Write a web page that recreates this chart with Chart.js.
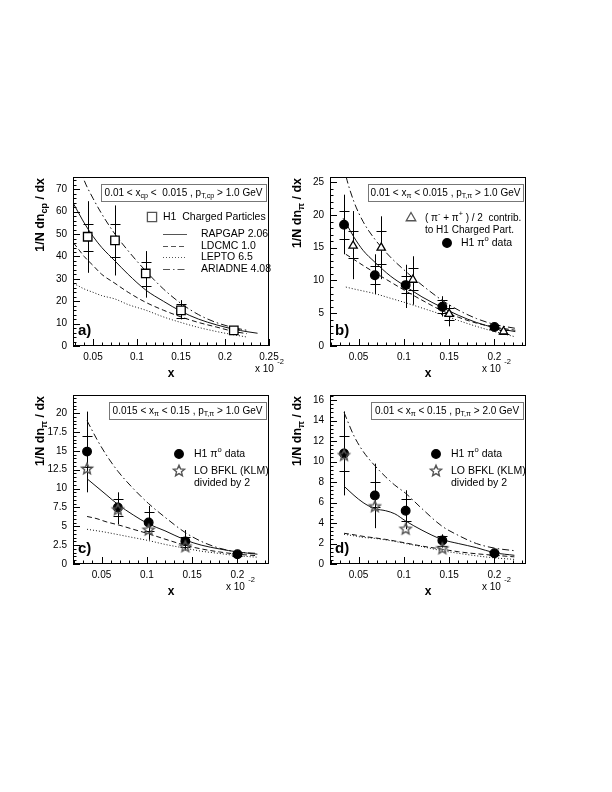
<!DOCTYPE html>
<html>
<head>
<meta charset="utf-8">
<script src="https://cdn.jsdelivr.net/npm/chart.js@4.4.0/dist/chart.umd.min.js"></script>
<style>
  body { margin: 0; background: #fff; }
  #page { position: relative; width: 612px; height: 792px; background: #fff; }
  canvas { position: absolute; }
</style>
</head>
<body>
<div id="page">
  <canvas id="chartA" width="306" height="240" style="left:0px;top:150px;width:306px;height:240px"></canvas>
  <canvas id="chartB" width="306" height="240" style="left:257px;top:150px;width:306px;height:240px"></canvas>
  <canvas id="chartC" width="306" height="240" style="left:0px;top:368px;width:306px;height:240px"></canvas>
  <canvas id="chartD" width="306" height="240" style="left:257px;top:368px;width:306px;height:240px"></canvas>
</div>
<script>
// ---- panel a : H1 charged particles ----
const aPtsX = [0.044, 0.075, 0.11, 0.15, 0.21];
const aPtsY = [48.8, 47.2, 32.4, 15.9, 7.0];
const aTotLo = [32.7, 31.5, 21.6, 11.9, 5.8];
const aTotHi = [64.7, 62.8, 42.4, 20.5, 8.2];
const aStatLo = [42.4, 39.7, 26.8, 12.6, 6.2];
const aStatHi = [54.6, 54.6, 37.5, 18.9, 7.8];

const aCurveX  = [0.028, 0.035, 0.04, 0.05, 0.06, 0.075, 0.09, 0.11, 0.13, 0.15, 0.17, 0.19, 0.21, 0.225, 0.237];
const aRapgap  = [63.5, 58.5, 55, 49, 44, 38, 32, 25, 20, 15.5, 12, 9.5, 7.5, 6.4, 5.7];
const aLdcmc   = [46, 42.5, 40, 36, 32, 28, 24, 19.5, 16, 13, 10.5, 8.5, 6.5, 5.5, null];
const aLepto   = [28, 26.5, 25.5, 24, 22.5, 21, 18.5, 16, 13, 10.5, 8.3, 6.5, 5, 4, null];
const aAriadne = [null, 80, 74, 66, 59, 50, 42.5, 33.5, 25.5, 19, 14, 10.5, 8.2, 7, null];

// ---- panel b : pi0 data and (pi- + pi+)/2 ----
const piX = [0.034, 0.068, 0.102, 0.1425, 0.2];
const bPiY = [18.5, 10.8, 9.3, 6.0, 2.9];
const bPiTotLo = [14.0, 7.9, 5.8, 4.5, 2.4];
const bPiTotHi = [23.1, 14.0, 12.4, 7.6, 3.4];
const bPiStatLo = [16.3, 9.4, 8.1, 5.1, 2.6];
const bPiStatHi = [20.6, 12.2, 10.7, 7.0, 3.2];

const bTriX = [0.044, 0.075, 0.11, 0.15, 0.21];
const bTriY = [15.3, 15.0, 10.1, 4.9, 2.2];
const bTriTotLo = [10.2, 10.2, 6.3, 3.0, 1.7];
const bTriTotHi = [20.6, 19.8, 13.7, 6.3, 2.7];
const bTriStatLo = [13.5, 12.5, 8.6, 4.0, 1.9];
const bTriStatHi = [17.5, 17.5, 11.9, 5.8, 2.5];

const bCurveX  = [0.033, 0.036, 0.045, 0.055, 0.068, 0.085, 0.102, 0.12, 0.142, 0.16, 0.18, 0.2, 0.223];
const bRapgap  = [19.5, 18.8, 16.6, 14.6, 12.8, 10.7, 9.1, 7.5, 5.9, 4.7, 3.6, 2.8, 2.2];
const bLdcmc   = [null, 14, 13.2, 12.3, 11.2, 9.8, 8.4, 7.0, 5.4, 4.4, 3.5, 2.9, 2.4];
const bLepto   = [null, 9.0, 8.7, 8.4, 8.0, 7.3, 6.6, 5.8, 4.8, 3.9, 3.0, 2.2, 1.4];
const bAriadne = [28, 26, 22, 19, 16.3, 13.6, 11.4, 9.3, 7.0, 5.5, 4.2, 3.3, 2.7];

// ---- panel c : pi0, 0.015 < x_pi < 0.15, pT > 1 GeV ----
const cPiY = [14.9, 7.5, 5.5, 3.0, 1.3];
const cTotLo = [9.5, 5.3, 3.2, 1.8, 1.0];
const cTotHi = [20.2, 9.5, 7.7, 4.5, 1.6];
const cStatLo = [12.8, 6.3, 4.4, 2.3, 1.1];
const cStatHi = [16.9, 8.6, 6.9, 3.6, 1.5];
const starX = [0.034, 0.068, 0.102, 0.1425];
const cBfkl = [12.6, 7.2, 4.5, 2.3];

const cCurveX  = [0.034, 0.045, 0.055, 0.068, 0.085, 0.102, 0.12, 0.142, 0.16, 0.18, 0.2, 0.222];
const cRapgap  = [11.3, 10.2, 9.2, 7.9, 6.5, 5.3, 4.4, 3.2, 2.5, 2.0, 1.6, 1.3];
const cLdcmc   = [6.3, 6.0, 5.6, 5.2, 4.6, 4.0, 3.3, 2.5, 2.0, 1.6, 1.3, 1.1];
const cLepto   = [4.6, 4.4, 4.2, 3.9, 3.5, 3.1, 2.6, 2.1, 1.7, 1.4, 1.1, 0.9];
const cAriadne = [19.0, 16.5, 14.5, 12.3, 10.0, 8.0, 6.2, 4.2, 3.0, 2.1, 1.6, 1.4];

// ---- panel d : pi0, 0.01 < x_pi < 0.15, pT > 2 GeV ----
const dPiY = [10.8, 6.7, 5.2, 2.3, 1.05];
const dTotLo = [6.7, 3.5, 3.4, 1.6, 0.8];
const dTotHi = [14.9, 9.8, 7.2, 2.9, 1.3];
const dStatLo = [9.1, 5.6, 4.2, 1.8, 0.9];
const dStatHi = [12.5, 8.0, 6.3, 2.7, 1.2];
const dBfkl = [10.6, 5.6, 3.4, 1.5];

const dCurveX  = [0.034, 0.045, 0.055, 0.068, 0.08, 0.09, 0.102, 0.12, 0.142, 0.16, 0.18, 0.2, 0.222];
const dRapgap  = [7.6, 6.7, 6.0, 5.4, 5.2, 4.9, 4.2, 3.3, 2.4, 2.0, 1.6, 1.1, 0.85];
const dLdcmc   = [3.0, 2.85, 2.7, 2.55, 2.4, 2.25, 2.05, 1.75, 1.45, 1.2, 1.0, 0.85, 0.7];
const dLepto   = [2.9, 2.75, 2.6, 2.5, 2.35, 2.2, 2.0, 1.7, 1.3, 1.05, 0.8, 0.6, 0.45];
const dAriadne = [14.8, 12.5, 11.0, 9.6, 8.5, 7.7, 6.9, 5.4, 3.7, 2.8, 2.0, 1.55, 1.3];

const FONT = "'Liberation Sans', Arial, Helvetica, sans-serif";
const SOLID = [], DASHED = [5, 3], DOTTED = [1, 2], DASHDOT = [7, 3, 1.5, 3];

// open star marker, used as a Chart.js pointStyle image
function makeStar(r) {
  const c = document.createElement("canvas");
  c.width = c.height = Math.ceil(r * 2 + 4);
  const g = c.getContext("2d");
  g.translate(c.width / 2, c.height / 2);
  g.beginPath();
  for (let k = 0; k < 10; k++) {
    const rad = k % 2 ? r * 0.45 : r;
    const ang = -Math.PI / 2 + k * Math.PI / 5;
    g.lineTo(rad * Math.cos(ang), rad * Math.sin(ang));
  }
  g.closePath();
  g.strokeStyle = "#555";
  g.lineWidth = 1.4;
  g.stroke();
  return c;
}
const STAR = makeStar(5.8);

function richText(ctx, parts, x, y, size, bold, align) {
  const w = bold ? "bold " : "";
  let total = 0;
  const widths = parts.map(p => {
    ctx.font = w + (p[1] ? size * 0.72 : size) + "px " + FONT;
    const m = ctx.measureText(p[0]).width;
    total += m;
    return m;
  });
  let cx = align === "center" ? x - total / 2 : align === "right" ? x - total : x;
  ctx.textAlign = "left";
  ctx.textBaseline = "middle";
  parts.forEach((p, i) => {
    ctx.font = w + (p[1] ? size * 0.72 : size) + "px " + FONT;
    const dy = p[1] === "sub" ? size * 0.32 : p[1] === "sup" ? -size * 0.42 : 0;
    ctx.fillText(p[0], cx, y + dy);
    cx += widths[i];
  });
}

function curve(xs, ys, dash) {
  const pts = [];
  xs.forEach((x, i) => { if (ys[i] !== null) pts.push({ x: x, y: ys[i] }); });
  return {
    data: pts, showLine: true, borderColor: "#111", borderWidth: 1, borderDash: dash,
    pointRadius: 0, cubicInterpolationMode: "monotone", fill: false
  };
}

function markers(xs, ys, style, radius, fill, stroke) {
  return {
    data: xs.map((x, i) => ({ x: x, y: ys[i] })), showLine: false,
    pointStyle: style, pointRadius: radius, pointBackgroundColor: fill,
    pointBorderColor: stroke, pointBorderWidth: 1.3
  };
}

const panelPlugin = {
  id: "panel",
  beforeDatasetsDraw(chart, args, o) {
    const ctx = chart.ctx, xs = chart.scales.x, ys = chart.scales.y;
    ctx.save();
    ctx.strokeStyle = "#000";
    ctx.lineWidth = 1;
    o.errors.forEach(e => {
      e.x.forEach((xv, i) => {
        const px = Math.round(xs.getPixelForValue(xv)) + 0.5;
        ctx.beginPath();
        ctx.moveTo(px, ys.getPixelForValue(e.totLo[i]));
        ctx.lineTo(px, ys.getPixelForValue(e.totHi[i]));
        [e.statLo[i], e.statHi[i]].forEach(v => {
          const py = Math.round(ys.getPixelForValue(v)) + 0.5;
          ctx.moveTo(px - 5, py);
          ctx.lineTo(px + 5, py);
        });
        ctx.stroke();
      });
    });
    ctx.restore();
  },
  afterDraw(chart, args, o) {
    const ctx = chart.ctx, ca = chart.chartArea, xs = chart.scales.x, ys = chart.scales.y;
    const L = Math.round(ca.left), T = Math.round(ca.top), R = Math.round(ca.right), B = Math.round(ca.bottom);
    ctx.save();
    ctx.fillStyle = "#000";
    ctx.strokeStyle = "#000";
    ctx.lineWidth = 1;
    ctx.strokeRect(L + 0.5, T + 0.5, R - L - 1, B - T - 1);

    // inward tick marks on left and bottom axes
    ctx.beginPath();
    const ny = Math.floor(ys.max / o.yMinor + 1e-6);
    for (let k = 0; k <= ny; k++) {
      const v = k * o.yMinor;
      const major = Math.abs(v / o.yMajor - Math.round(v / o.yMajor)) < 1e-6;
      const py = Math.round(ys.getPixelForValue(v)) + 0.5;
      ctx.moveTo(L, py);
      ctx.lineTo(L + (major ? 7 : 3.5), py);
    }
    for (let k = Math.ceil(xs.min / 0.01); k <= Math.floor(xs.max / 0.01 + 1e-6); k++) {
      const px = Math.round(xs.getPixelForValue(k * 0.01)) + 0.5;
      ctx.moveTo(px, B);
      ctx.lineTo(px, B - (k % 5 === 0 ? 7 : 3.5));
    }
    ctx.stroke();

    // cut box
    const bx = L + o.boxLeft, by = T + 7, bw = R - 3 - bx, bh = 17;
    ctx.fillStyle = "#fff";
    ctx.fillRect(bx, by, bw, bh);
    ctx.strokeStyle = "#777";
    ctx.strokeRect(bx + 0.5, by + 0.5, bw, bh);
    ctx.fillStyle = "#000";
    richText(ctx, o.boxText, bx + bw / 2, by + bh / 2 + 0.5, 10, false, "center");

    // legend
    o.legend.forEach(item => {
      const x = L + item.x, y = T + item.y;
      if (item.line) {
        ctx.save();
        ctx.strokeStyle = "#555";
        ctx.setLineDash(item.line);
        ctx.beginPath();
        ctx.moveTo(x, y + 0.5);
        ctx.lineTo(x + 24, y + 0.5);
        ctx.stroke();
        ctx.restore();
      } else if (item.marker) {
        ctx.save();
        ctx.fillStyle = item.fill;
        ctx.strokeStyle = item.stroke;
        ctx.lineWidth = 1.3;
        Chart.helpers.drawPoint(ctx, { pointStyle: item.marker, radius: item.r, rotation: 0, borderWidth: 1.3 }, x, y);
        ctx.restore();
      }
      item.text.forEach((line, j) => {
        richText(ctx, line, L + item.tx, y + j * 12, item.size || 10.5, false, "left");
      });
    });

    // panel label, axis titles, x 10^-2
    ctx.fillStyle = "#000";
    ctx.font = "bold 15px " + FONT;
    ctx.textAlign = "left";
    ctx.textBaseline = "middle";
    ctx.fillText(o.tag, L + 5, T + 154);
    richText(ctx, [["x", ""]], (L + R) / 2, B + 28, 12, true, "center");
    ctx.font = "10px " + FONT;
    ctx.fillText("x 10", R - o.expOff, B + 23);
    ctx.font = "7.5px " + FONT;
    ctx.fillText("-2", R - o.expOff + ctx.measureText("x 10").width + 8, B + 16);
    ctx.save();
    ctx.translate(L - 32, T + 1);
    ctx.rotate(-Math.PI / 2);
    richText(ctx, o.yTitle, 0, 0, 12.5, true, "right");
    ctx.restore();
    ctx.restore();
  }
};

function makeChart(id, datasets, xr, yr, plug) {
  const tickFont = { family: FONT, size: 10 };
  return new Chart(document.getElementById(id), {
    type: "scatter",
    data: { datasets: datasets },
    options: {
      responsive: false,
      animation: false,
      layout: { padding: { left: 33, top: 27, right: 37, bottom: 14 } },
      plugins: { legend: { display: false }, tooltip: { enabled: false }, panel: plug },
      scales: {
        x: {
          type: "linear", min: xr[0], max: xr[1],
          afterFit: s => { s.height = 30; },
          grid: { display: false, drawTicks: false }, border: { display: false },
          ticks: {
            stepSize: 0.05, includeBounds: false, padding: 5, color: "#000", font: tickFont,
            autoSkip: false, maxRotation: 0, callback: v => String(Math.round(v * 100) / 100)
          }
        },
        y: {
          type: "linear", min: yr[0], max: yr[1],
          afterFit: s => { s.width = 40; },
          grid: { display: false, drawTicks: false }, border: { display: false },
          ticks: {
            stepSize: yr[2], includeBounds: false, padding: 6, color: "#000", font: tickFont,
            autoSkip: false, callback: v => String(Math.round(v * 10) / 10)
          }
        }
      }
    },
    plugins: [panelPlugin]
  });
}

const piTitle = [["1/N dn", ""], ["\u03c0", "sub"], [" / dx", ""]];
const pi0Text = [["H1 \u03c0", ""], ["o", "sup"], [" data", ""]];
const bfklLegend = [
  { marker: "circle", r: 4.3, fill: "#000", stroke: "#000", x: 106, y: 59, tx: 121, text: [pi0Text] },
  { marker: STAR, r: 5, x: 106, y: 76, tx: 121, text: [[["LO BFKL (KLM)", ""]], [["divided by 2", ""]]] }
];

makeChart("chartA", [
  markers(aPtsX, aPtsY, "rect", 6, "#fff", "#000"),
  curve(aCurveX, aRapgap, SOLID),
  curve(aCurveX, aLdcmc, DASHED),
  curve(aCurveX, aLepto, DOTTED),
  curve(aCurveX, aAriadne, DASHDOT)
], [0.0273, 0.25], [0, 75.5, 10], {
  errors: [{ x: aPtsX, totLo: aTotLo, totHi: aTotHi, statLo: aStatLo, statHi: aStatHi }],
  yMajor: 10, yMinor: 2, tag: "a)", expOff: 14, boxLeft: 28,
  boxText: [["0.01 < x", ""], ["cp", "sub"], [" <  0.015 , p", ""], ["T,cp", "sub"], [" > 1.0 GeV", ""]],
  yTitle: [["1/N dn", ""], ["cp", "sub"], [" / dx", ""]],
  legend: [
    { marker: "rect", r: 6.5, fill: "#fff", stroke: "#555", x: 79, y: 40, tx: 90, text: [[["H1  Charged Particles", ""]]] },
    { line: SOLID, x: 90, y: 57, tx: 128, text: [[["RAPGAP 2.06", ""]]] },
    { line: DASHED, x: 90, y: 69, tx: 128, text: [[["LDCMC 1.0", ""]]] },
    { line: DOTTED, x: 90, y: 80, tx: 128, text: [[["LEPTO 6.5", ""]]] },
    { line: DASHDOT, x: 90, y: 92, tx: 128, text: [[["ARIADNE 4.08", ""]]] }
  ]
});

makeChart("chartB", [
  markers(piX, bPiY, "circle", 4.3, "#000", "#000"),
  markers(bTriX, bTriY, "triangle", 4.8, "#fff", "#000"),
  curve(bCurveX, bRapgap, SOLID),
  curve(bCurveX, bLdcmc, DASHED),
  curve(bCurveX, bLepto, DOTTED),
  curve(bCurveX, bAriadne, DASHDOT)
], [0.0185, 0.2348], [0, 25.8, 5], {
  errors: [
    { x: piX, totLo: bPiTotLo, totHi: bPiTotHi, statLo: bPiStatLo, statHi: bPiStatHi },
    { x: bTriX, totLo: bTriTotLo, totHi: bTriTotHi, statLo: bTriStatLo, statHi: bTriStatHi }
  ],
  yMajor: 5, yMinor: 1, tag: "b)", expOff: 44, boxLeft: 38,
  boxText: [["0.01 < x", ""], ["\u03c0", "sub"], [" < 0.015 , p", ""], ["T,\u03c0", "sub"], [" > 1.0 GeV", ""]],
  yTitle: piTitle,
  legend: [
    { marker: "triangle", r: 5.5, fill: "#fff", stroke: "#555", x: 81, y: 41, tx: 95, size: 10,
      text: [[["( \u03c0", ""], ["-", "sup"], [" + \u03c0", ""], ["+", "sup"], [" ) / 2  contrib.", ""]], [["to H1 Charged Part.", ""]]] },
    { marker: "circle", r: 4.3, fill: "#000", stroke: "#000", x: 117, y: 66, tx: 131, text: [pi0Text] }
  ]
});

makeChart("chartC", [
  markers(starX, cBfkl, STAR, 6, "#fff", "#555"),
  markers(piX, cPiY, "circle", 4.3, "#000", "#000"),
  curve(cCurveX, cRapgap, SOLID),
  curve(cCurveX, cLdcmc, DASHED),
  curve(cCurveX, cLepto, DOTTED),
  curve(cCurveX, cAriadne, DASHDOT)
], [0.0185, 0.2348], [0, 22.4, 2.5], {
  errors: [{ x: piX, totLo: cTotLo, totHi: cTotHi, statLo: cStatLo, statHi: cStatHi }],
  yMajor: 2.5, yMinor: 0.5, tag: "c)", expOff: 43, boxLeft: 36,
  boxText: [["0.015 < x", ""], ["\u03c0", "sub"], [" < 0.15 , p", ""], ["T,\u03c0", "sub"], [" > 1.0 GeV", ""]],
  yTitle: piTitle,
  legend: bfklLegend
});

makeChart("chartD", [
  markers(starX, dBfkl, STAR, 6, "#fff", "#555"),
  markers(piX, dPiY, "circle", 4.3, "#000", "#000"),
  curve(dCurveX, dRapgap, SOLID),
  curve(dCurveX, dLdcmc, DASHED),
  curve(dCurveX, dLepto, DOTTED),
  curve(dCurveX, dAriadne, DASHDOT)
], [0.0185, 0.2348], [0, 16.5, 2], {
  errors: [{ x: piX, totLo: dTotLo, totHi: dTotHi, statLo: dStatLo, statHi: dStatHi }],
  yMajor: 2, yMinor: 0.4, tag: "d)", expOff: 44, boxLeft: 41,
  boxText: [["0.01 < x", ""], ["\u03c0", "sub"], [" < 0.15 , p", ""], ["T,\u03c0", "sub"], [" > 2.0 GeV", ""]],
  yTitle: piTitle,
  legend: bfklLegend
});
</script>
</body>
</html>
